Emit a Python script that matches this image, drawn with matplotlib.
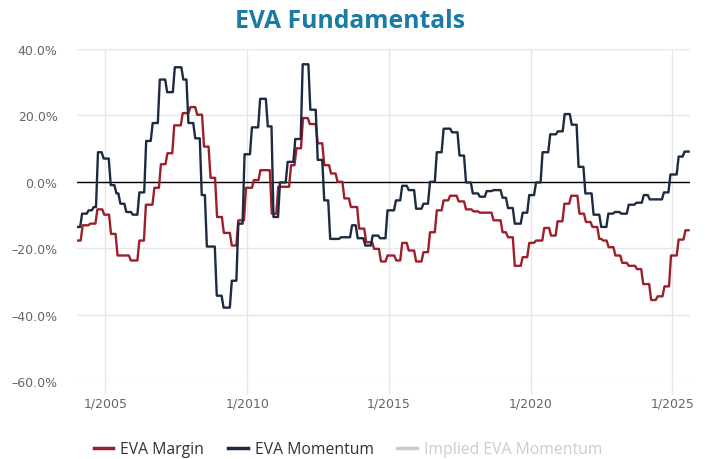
import matplotlib
matplotlib.use("Agg")
import matplotlib.pyplot as plt
from matplotlib.lines import Line2D

plt.rcParams['font.family'] = ['Open Sans', 'DejaVu Sans']

# EVA Margin (%), step start dates as decimal years
margin_t = [2004.01, 2004.20, 2004.47, 2004.72, 2004.96, 2005.20, 2005.43, 2005.90, 2006.20, 2006.43,
            2006.73, 2006.96, 2007.19, 2007.43, 2007.73, 2008.00, 2008.24, 2008.48, 2008.71, 2008.94,
            2009.18, 2009.46, 2009.69, 2009.96, 2010.24, 2010.47, 2010.87, 2011.10, 2011.55, 2011.74,
            2011.97, 2012.21, 2012.49, 2012.72, 2012.96, 2013.19, 2013.43, 2013.66, 2013.95, 2014.20,
            2014.48, 2014.72, 2014.95, 2015.26, 2015.47, 2015.70, 2015.96, 2016.22, 2016.45, 2016.69,
            2016.93, 2017.16, 2017.46, 2017.72, 2017.98, 2018.21, 2018.69, 2019.01, 2019.20, 2019.44,
            2019.72, 2019.95, 2020.19, 2020.48, 2020.72, 2020.95, 2021.19, 2021.43, 2021.72, 2021.95,
            2022.18, 2022.42, 2022.56, 2022.75, 2022.99, 2023.23, 2023.46, 2023.75, 2023.97, 2024.25,
            2024.48, 2024.72, 2024.95, 2025.22, 2025.46]
margin_v = [-17.7, -13.1, -12.6, -8.3, -9.9, -15.7, -22.2, -23.7, -17.7, -6.9,
            -1.8, 5.3, 8.6, 17.0, 20.7, 22.5, 20.2, 10.6, 1.2, -10.6,
            -15.4, -19.2, -11.6, -1.8, 0.5, 3.5, -9.6, -1.5, 5.0, 10.1,
            19.2, 17.4, 11.6, 5.0, 2.5, 0.0, -5.0, -7.6, -14.1, -18.2,
            -20.2, -24.0, -22.2, -23.7, -18.4, -20.7, -24.0, -21.2, -15.2, -8.6,
            -5.6, -4.2, -5.9, -8.3, -8.9, -9.3, -11.6, -15.2, -16.7, -25.3,
            -22.7, -18.4, -17.7, -13.9, -16.2, -11.9, -6.6, -4.2, -9.6, -12.1,
            -13.6, -17.2, -17.7, -19.7, -22.2, -24.4, -25.3, -26.3, -30.8, -35.6,
            -34.5, -31.5, -22.2, -17.4, -14.6]

# EVA Momentum (%)
mom_t = [2004.01, 2004.18, 2004.41, 2004.59, 2004.74, 2004.94, 2005.19, 2005.39, 2005.53, 2005.74,
         2005.97, 2006.20, 2006.44, 2006.67, 2006.92, 2007.18, 2007.45, 2007.75, 2007.93, 2008.17,
         2008.40, 2008.58, 2008.93, 2009.17, 2009.46, 2009.69, 2009.91, 2010.17, 2010.46, 2010.73,
         2010.93, 2011.16, 2011.43, 2011.70, 2011.96, 2012.23, 2012.49, 2012.72, 2012.93, 2013.31,
         2013.70, 2013.90, 2014.17, 2014.43, 2014.69, 2014.95, 2015.25, 2015.47, 2015.70, 2015.96,
         2016.22, 2016.45, 2016.69, 2016.93, 2017.23, 2017.49, 2017.72, 2017.96, 2018.21, 2018.45,
         2018.69, 2019.01, 2019.20, 2019.44, 2019.72, 2019.95, 2020.19, 2020.42, 2020.69, 2020.96,
         2021.20, 2021.45, 2021.69, 2021.93, 2022.22, 2022.49, 2022.74, 2022.97, 2023.20, 2023.46,
         2023.73, 2023.99, 2024.20, 2024.70, 2024.93, 2025.22, 2025.43]
mom_v = [-13.6, -9.6, -8.6, -7.6, 8.9, 7.0, -1.0, -3.5, -6.6, -9.1,
         -9.9, -3.2, 12.3, 17.7, 30.8, 27.0, 34.5, 30.8, 17.7, 13.1,
         -4.0, -19.5, -34.3, -37.9, -29.8, -12.6, 8.3, 16.4, 25.0, 16.7,
         -10.6, -0.2, 6.0, 12.9, 35.4, 21.7, 6.6, -5.6, -17.2, -16.7,
         -13.1, -17.0, -19.2, -16.2, -17.0, -8.6, -5.6, -1.2, -2.5, -8.1,
         -6.6, 0.0, 8.9, 16.0, 14.9, 7.9, -0.2, -3.5, -4.5, -2.8,
         -2.5, -4.8, -7.9, -12.6, -9.3, -4.0, -0.2, 8.9, 14.3, 15.2,
         20.4, 17.2, 4.5, -3.5, -9.9, -13.6, -9.6, -9.1, -9.6, -6.9,
         -6.3, -4.0, -5.3, -3.2, 2.2, 7.6, 9.1]

last_date = 2025.57
x_ticks = [2005, 2010, 2015, 2020, 2025]
x_labels = ["1/2005", "1/2010", "1/2015", "1/2020", "1/2025"]
y_ticks = [-60, -40, -20, 0, 20, 40]

red = "#9e1f2a"
navy = "#1c2b40"
grid = "#e6e6e6"
label_col = "#666666"


def stairs(t, v, end, ramp=0.07):
    # monthly series that moves in steps: short ramp into each new level
    xs, ys = [t[0]], [v[0]]
    for i in range(1, len(t)):
        xs += [t[i] - ramp, t[i]]
        ys += [v[i - 1], v[i]]
    xs.append(end)
    ys.append(v[-1])
    return xs, ys


fig = plt.figure(figsize=(7.05, 4.6), dpi=100)
ax = fig.add_axes([77 / 705, (460 - 382) / 460, (690 - 77) / 705, (382 - 50) / 460])

for y in y_ticks:
    ax.axhline(y, color=grid, lw=1, zorder=0)
for x in x_ticks:
    ax.axvline(x, color=grid, lw=1, zorder=0)
ax.axhline(0, color="black", lw=1, zorder=1)

mx, my = stairs(margin_t, margin_v, last_date)
ax.plot(mx, my, color=red, lw=1.7, zorder=3)
nx, ny = stairs(mom_t, mom_v, last_date)
ax.plot(nx, ny, color=navy, lw=1.7, zorder=4)

ax.set_xlim(2004.0, 2025.62)
ax.set_ylim(-60, 40)
ax.set_xticks(x_ticks)
ax.set_xticklabels(x_labels, family="DejaVu Sans")
ax.set_yticks(y_ticks)
ax.set_yticklabels([f"{y:.1f}%".replace("-", "\u2013") for y in y_ticks], family="DejaVu Sans")
ax.tick_params(axis="x", length=9, color=grid, width=1, pad=2, labelsize=9, labelcolor=label_col)
ax.tick_params(axis="y", length=0, pad=14, labelsize=9, labelcolor=label_col)
for s in ax.spines.values():
    s.set_visible(False)

fig.text(350 / 705, 1 - 21 / 460, "EVA Fundamentals", ha="center", va="center",
         fontsize=17.8, fontweight="bold", color="#1a7ba5")

handles = [Line2D([], [], color=red, lw=2.5),
           Line2D([], [], color=navy, lw=2.5),
           Line2D([], [], color="#cccccc", lw=2.5)]
leg = fig.legend(handles, ["EVA Margin", "EVA Momentum", "Implied EVA Momentum"],
                 loc="center", bbox_to_anchor=(348 / 705, 1 - 450 / 460), ncol=3, frameon=False,
                 fontsize=11.3, handlelength=1.25, handletextpad=0.45, columnspacing=1.5)
for txt, c in zip(leg.get_texts(), ["#333333", "#333333", "#cccccc"]):
    txt.set_color(c)

fig.savefig("out.png", dpi=100)
